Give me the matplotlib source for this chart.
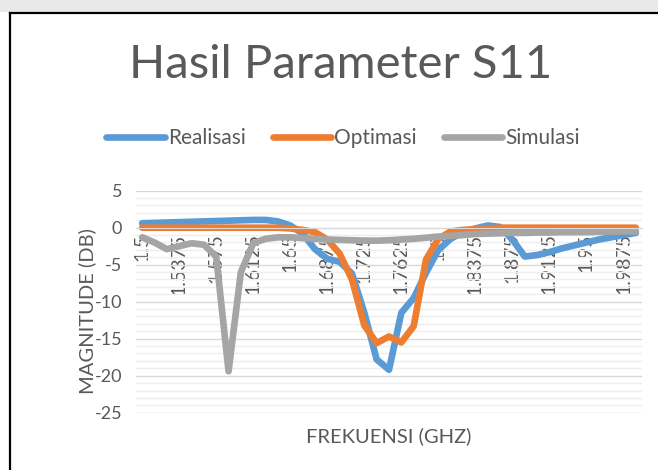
import matplotlib
matplotlib.use("Agg")
from matplotlib import pyplot as plt
from matplotlib.patches import Rectangle
from matplotlib.lines import Line2D
import numpy as np

# frequency categories (GHz)
freq = [1.5, 1.5125, 1.525, 1.5375, 1.55, 1.5625, 1.575, 1.5875, 1.6, 1.6125,
        1.625, 1.6375, 1.65, 1.6625, 1.675, 1.6875, 1.7, 1.7125, 1.725, 1.7375,
        1.75, 1.7625, 1.775, 1.7875, 1.8, 1.8125, 1.825, 1.8375, 1.85, 1.8625,
        1.875, 1.8875, 1.9, 1.9125, 1.925, 1.9375, 1.95, 1.9625, 1.975, 1.9875,
        2.0]

# S11 (dB)
realisasi = [0.6, 0.65, 0.7, 0.75, 0.8, 0.85, 0.9, 0.95, 1.0, 1.05,
             1.05, 0.85, 0.3, -0.8, -2.9, -4.2, -4.6, -6.2, -11.5, -17.8,
             -19.2, -11.5, -9.5, -6.1, -3.0, -1.5, -0.6, -0.1, 0.3, 0.1,
             -1.6, -3.9, -3.7, -3.3, -2.8, -2.4, -2.0, -1.6, -1.3, -1.0,
             -0.7]
optimasi = [0.0, 0.0, 0.0, 0.0, 0.0, 0.0, 0.0, 0.0, 0.0, 0.0,
            0.0, 0.0, -0.1, -0.3, -0.6, -1.6, -3.5, -7.0, -13.2, -15.6,
            -14.7, -15.5, -13.3, -4.3, -1.5, -0.5, -0.3, -0.2, -0.1, 0.0,
            0.0, 0.0, 0.0, 0.0, 0.0, 0.0, 0.0, 0.0, 0.0, 0.0,
            0.0]
simulasi = [-1.3, -2.0, -2.9, -2.5, -2.1, -2.3, -3.9, -19.4, -6.0, -2.1,
            -1.5, -1.3, -1.3, -1.4, -1.5, -1.6, -1.65, -1.7, -1.75, -1.75,
            -1.7, -1.6, -1.5, -1.35, -1.2, -1.1, -1.0, -0.85, -0.8, -0.75,
            -0.7, -0.7, -0.65, -0.65, -0.6, -0.6, -0.6, -0.55, -0.55, -0.5,
            -0.5]

series = [("Realisasi", realisasi, "#5B9BD5"),
          ("Optimasi", optimasi, "#ED7D31"),
          ("Simulasi", simulasi, "#A5A5A5")]

txt = "#595959"
plt.rcParams['font.family'] = ['Lato', 'DejaVu Sans']
plt.rcParams['axes.unicode_minus'] = False

fig = plt.figure(figsize=(6.58, 4.70), dpi=100)

# screenshot frame: grey band on top, black border
fig.patches.append(Rectangle((0, 1 - 12 / 470), 1, 12 / 470, transform=fig.transFigure,
                             facecolor="#E9E9E9", edgecolor="none", zorder=0))
fig.lines.append(Line2D([9.5 / 658, 1], [1 - 13 / 470, 1 - 13 / 470], transform=fig.transFigure,
                        color="black", lw=1.6))
fig.lines.append(Line2D([9.5 / 658, 9.5 / 658], [0, 1 - 13 / 470], transform=fig.transFigure,
                        color="black", lw=1.6))

ax = fig.add_axes([136 / 658, 1 - 412.7 / 470, (642 - 136) / 658, (412.7 - 190.7) / 470])
x = np.arange(len(freq))
for name, vals, col in series:
    ax.plot(x, vals, color=col, lw=4.8, label=name,
            solid_capstyle="round", solid_joinstyle="round")

ax.set_xlim(-0.5, len(freq) - 0.5)
ax.set_ylim(-25, 5)
ax.set_yticks(np.arange(-25, 6, 5))
ax.set_yticks(np.arange(-25, 6, 1), minor=True)
ax.grid(axis="y", which="major", color="#D9D9D9", lw=1.0)
ax.grid(axis="y", which="minor", color="#EEEEEE", lw=1.0)
ax.set_axisbelow(True)

ax.spines["bottom"].set_position(("data", 0))
ax.spines["bottom"].set_color("#D9D9D9")
for s in ["top", "right", "left"]:
    ax.spines[s].set_visible(False)
ax.set_xticks(x[::3])
ax.set_xticklabels(["{:g}".format(f) for f in freq[::3]])
ax.tick_params(axis="x", length=0, pad=4, labelsize=14, labelcolor=txt, labelrotation=90)
ax.tick_params(axis="y", which="both", length=0, pad=10, labelsize=13, labelcolor=txt)

fig.text(341 / 658, 1 - 65 / 470, "Hasil Parameter S11", ha="center", va="center",
         fontsize=34, color=txt)
fig.text(87 / 658, 1 - 311 / 470, "MAGNITUDE (DB)", rotation=90, ha="center", va="center",
         fontsize=14.5, color=txt)
fig.text(389 / 658, 1 - 436 / 470, "FREKUENSI (GHZ)", ha="center", va="center",
         fontsize=14.5, color=txt)

leg = fig.legend(loc="center", bbox_to_anchor=(343 / 658, 1 - 138 / 470), ncol=3,
                 frameon=False, fontsize=15, handlelength=2.8, handletextpad=0.15,
                 columnspacing=1.3, labelcolor=txt)
for h in leg.get_lines():
    h.set_linewidth(4.8)
    h.set_solid_capstyle("round")

fig.savefig("out.png", dpi=100, facecolor="white")
